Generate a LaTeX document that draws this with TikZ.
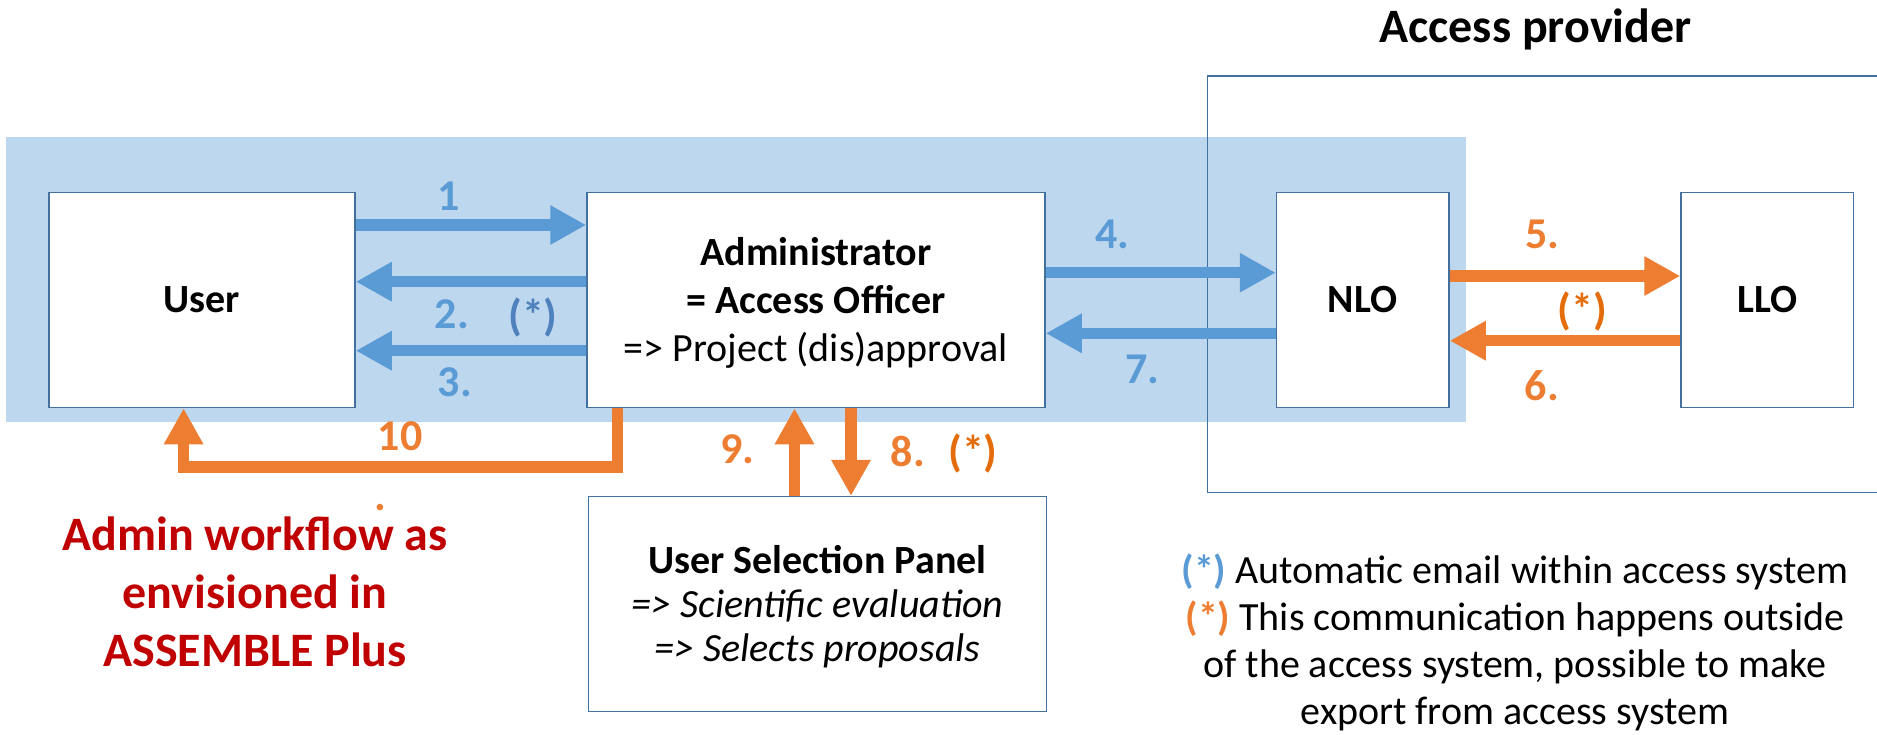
\documentclass[tikz,border=0pt]{standalone}
\usepackage{fontspec}
\setmainfont{Carlito}
\usetikzlibrary{arrows.meta}
\definecolor{bandc}{HTML}{BDD7EE}
\definecolor{arrb}{HTML}{5B9BD5}
\definecolor{dblue}{HTML}{4F81BD}
\definecolor{orng}{HTML}{ED7D31}
\definecolor{dorng}{HTML}{E46C0A}
\definecolor{boxc}{HTML}{41719C}
\definecolor{redt}{HTML}{C00000}
\newcommand\ctab[1]{\begin{tabular}[t]{@{}c@{}}#1\end{tabular}}
\newcommand\szbox{\fontsize{40}{48.3}\selectfont}
\begin{document}
\begin{tikzpicture}[x=1pt,y=-1pt,
  box/.style={draw=boxc, line width=1.5pt, fill=white, inner sep=0pt, font=\szbox\bfseries},
  barrow/.style={draw=arrb, line width=11.5pt, -{Triangle[length=36pt,width=37pt]}},
  oarrow/.style={draw=orng, line width=11.5pt, -{Triangle[length=36pt,width=37pt]}},
  lbl/.style={font=\fontsize{44}{53}\selectfont\bfseries, anchor=base, inner sep=0pt},
]
\useasboundingbox (0,0) rectangle (1877,734);
% background band and provider frame
\node[fill=bandc, inner sep=0pt, minimum width=1459.4pt, minimum height=285pt, anchor=north west] (band) at (6,136.7) {};
\node[draw=boxc, line width=1.5pt, inner sep=0pt, minimum width=690pt, minimum height=416.7pt, anchor=north west] (prov) at (1206.7,75) {};
\node[font=\fontsize{48}{58}\selectfont\bfseries, anchor=base, inner sep=0pt] (title) at (1535.6,42.7) {Access provider};
% boxes
\node[box, minimum width=306pt, minimum height=215pt] (user) at (202,300) {User};
\node[box, minimum width=458pt, minimum height=215pt] (admin) at (816,300)
  {\ctab{\rule{0pt}{41.1pt}Administrator\\= Access Officer\\\mdseries => Project (dis)approval}};
\node[box, minimum width=172.5pt, minimum height=215pt] (nlo) at (1362.75,300) {NLO};
\node[box, minimum width=172.5pt, minimum height=215pt] (llo) at (1767.25,300) {LLO};
\node[box, minimum width=457.8pt, minimum height=215pt, font=\fontsize{40}{44.2}\selectfont\bfseries] (usp) at (817.5,604.2)
  {\ctab{\rule{0pt}{39.9pt}User Selection Panel\\\mdseries\itshape => Scientific evaluation\\\mdseries\itshape => Selects proposals}};
% arrows
\draw[barrow] (user.east |- 0,225) -- (admin.west |- 0,225);
\draw[barrow] (admin.west |- 0,281.7) -- (user.east |- 0,281.7);
\draw[barrow] (admin.west |- 0,350.7) -- (user.east |- 0,350.7);
\draw[barrow] (admin.east |- 0,272.7) -- (nlo.west |- 0,272.7);
\draw[barrow] (nlo.west |- 0,333.3) -- (admin.east |- 0,333.3);
\draw[oarrow] (nlo.east |- 0,276) -- (llo.west |- 0,276);
\draw[oarrow] (llo.west |- 0,340.7) -- (nlo.east |- 0,340.7);
\draw[oarrow] (usp.north -| 794.5,0) -- (admin.south -| 794.5,0);
\draw[oarrow] (admin.south -| 851,0) -- (usp.north -| 851,0);
\coordinate (c10) at (183.6,467);
\draw[oarrow] (admin.south -| 617.5,0) |- (c10) -- (user.south -| c10);
% labels
\node[lbl, text=arrb] (l1) at (449,210) {1};
\node[lbl, text=arrb] (l2) at (452,328.3) {2.};
\node[lbl, text=dblue] (l2s) at (533,330) {(*)};
\node[lbl, text=arrb] (l3) at (455,396.7) {3.};
\node[lbl, text=arrb] (l4) at (1112.6,248.3) {4.};
\node[lbl, text=arrb] (l7) at (1142.6,383.3) {7.};
\node[lbl, text=orng] (l5) at (1542.3,248.3) {5.};
\node[lbl, text=orng] (l6) at (1542,400) {6.};
\node[lbl, text=dorng] (l56s) at (1582.3,324) {(*)};
\node[lbl, text=orng] (l9) at (737.7,463.3) {9.};
\node[lbl, text=orng] (l8) at (908,466.7) {8.};
\node[lbl, text=dorng] (l8s) at (973,466.7) {(*)};
\node[lbl, text=orng] (l10) at (400,450.7) {10};
\node[lbl, text=orng] (l10d) at (380.7,510) {.};
% caption
\node[anchor=base, text=redt, font=\fontsize{48}{58.3}\selectfont\bfseries, inner sep=0pt] (caption) at (255,550)
  {\ctab{Admin workflow as\\envisioned in\\ASSEMBLE Plus}};
% legend
\node[anchor=base, font=\fontsize{40}{47.2}\selectfont, inner sep=0pt] (legend) at (1515,583.3)
  {\ctab{{\color{arrb}\bfseries(*)} Automatic email within access system\\{\color{orng}\bfseries(*)} This communication happens outside\\of the access system, possible to make\\export from access system}};
\end{tikzpicture}
\end{document}
